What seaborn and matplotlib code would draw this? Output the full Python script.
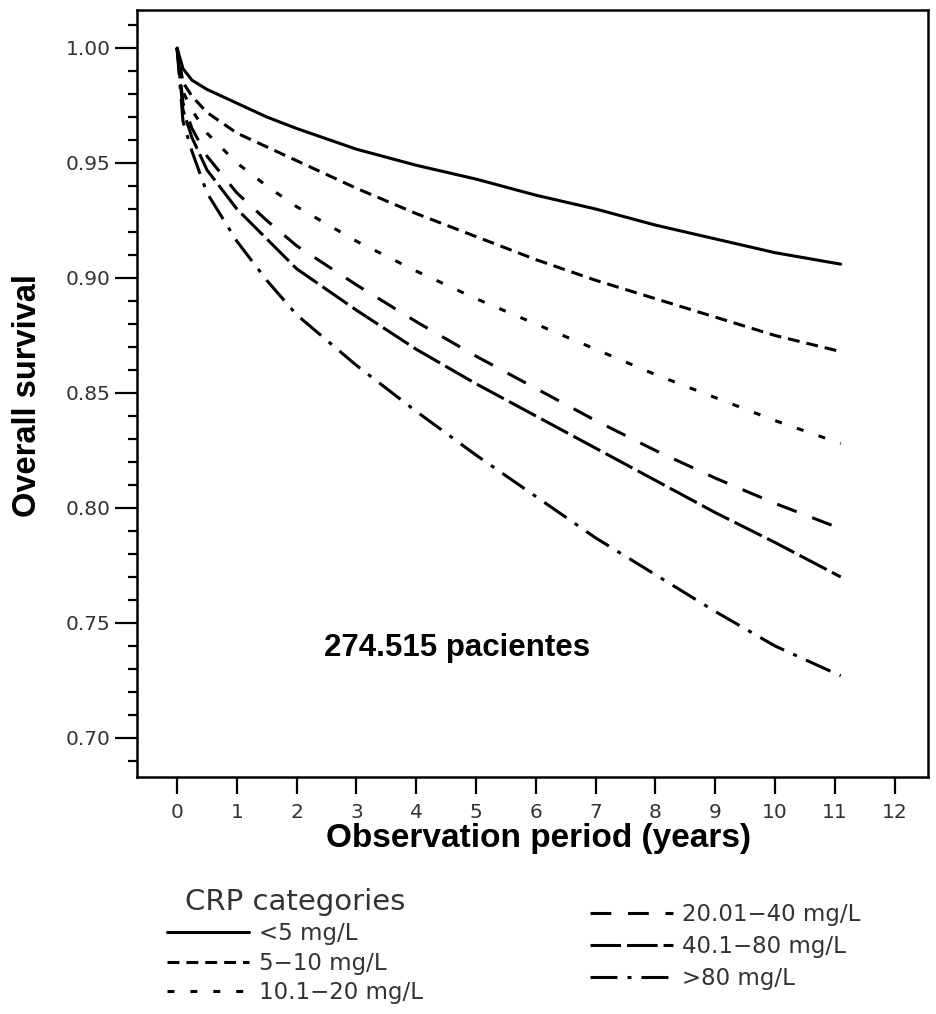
import matplotlib
matplotlib.use("Agg")
import matplotlib.pyplot as plt
import seaborn as sns
from matplotlib.ticker import MultipleLocator, FormatStrFormatter

# ---- data (years, survival) ----
years = [0, 0.1, 0.25, 0.5, 1, 1.5, 2, 3, 4, 5, 6, 7, 8, 9, 10, 11.1]
surv_lt5 = [1.000, 0.991, 0.986, 0.982, 0.976, 0.970, 0.965, 0.956, 0.949, 0.943, 0.936, 0.930, 0.923, 0.917, 0.911, 0.906]
surv_5_10 = [1.000, 0.985, 0.979, 0.972, 0.963, 0.957, 0.951, 0.939, 0.928, 0.918, 0.908, 0.899, 0.891, 0.883, 0.875, 0.868]
surv_10_20 = [1.000, 0.981, 0.973, 0.963, 0.950, 0.940, 0.931, 0.916, 0.903, 0.891, 0.880, 0.869, 0.858, 0.848, 0.838, 0.828]
surv_20_40 = [1.000, 0.976, 0.965, 0.953, 0.937, 0.925, 0.914, 0.897, 0.881, 0.866, 0.852, 0.838, 0.825, 0.813, 0.802, 0.791]
surv_40_80 = [1.000, 0.973, 0.961, 0.947, 0.930, 0.917, 0.904, 0.886, 0.869, 0.854, 0.840, 0.826, 0.812, 0.798, 0.785, 0.770]
surv_gt80 = [1.000, 0.968, 0.955, 0.937, 0.916, 0.899, 0.884, 0.862, 0.842, 0.823, 0.805, 0.787, 0.771, 0.755, 0.740, 0.727]

categories = ["<5 mg/L", "5\u221210 mg/L", "10.1\u221220 mg/L",
              "20.01\u221240 mg/L", "40.1\u221280 mg/L", ">80 mg/L"]
series = [surv_lt5, surv_5_10, surv_10_20, surv_20_40, surv_40_80, surv_gt80]
x_ticks = list(range(0, 13))

# line styles (dash patterns in points)
styles = ["solid", (0, (8.6, 5.0)), (0, (5.0, 11.5)), (0, (15.0, 12.0)),
          (0, (22.0, 4.3)), (0, (19.4, 7.2, 2.9, 7.2))]

sns.set_theme(style="ticks")
plt.rcParams["font.family"] = ["DejaVu Sans"]
plt.rcParams["lines.scale_dashes"] = False

fig = plt.figure(figsize=(9.37, 10.14), dpi=100)
ax = fig.add_axes([0.1462, 0.2337, 0.8442, 0.7564])
ax.set_facecolor("white")

for lab, vals, ls in zip(categories, series, styles):
    sns.lineplot(x=years, y=vals, ax=ax, color="black", linewidth=2.2,
                 linestyle=ls, label=lab, legend=False, errorbar=None,
                 estimator=None, sort=False)

ax.set_xlim(-0.67, 12.56)
ax.set_ylim(0.683, 1.0165)
ax.set_xticks(x_ticks)
ax.yaxis.set_major_locator(MultipleLocator(0.05))
ax.yaxis.set_minor_locator(MultipleLocator(0.01))
ax.yaxis.set_major_formatter(FormatStrFormatter("%.2f"))

for s in ax.spines.values():
    s.set_visible(True)
    s.set_linewidth(1.8)
    s.set_color("black")

ax.tick_params(axis="y", which="major", length=16, width=1.6, direction="out",
               labelsize=14.5, pad=3, labelcolor="#333333", color="black", left=True)
ax.tick_params(axis="y", which="minor", length=6.5, width=1.6, direction="out",
               color="black", left=True)
ax.tick_params(axis="x", which="major", length=12.5, width=1.6, direction="out",
               labelsize=14.5, pad=6, labelcolor="#333333", color="black", bottom=True)

ax.set_xlabel("Observation period (years)", fontsize=24, fontweight="bold",
              family="Liberation Sans", color="black")
ax.set_ylabel("Overall survival", fontsize=23.5, fontweight="bold",
              family="Liberation Sans", color="black")
ax.xaxis.set_label_coords(0.507, -0.060)
ax.yaxis.set_label_coords(-0.119, 0.498)

ax.text(4.68, 0.739, "274.515 pacientes", ha="center", va="center",
        fontsize=22.5, fontweight="bold", family="Liberation Sans", color="black")

handles = ax.get_lines()[:6]
leg_prop = {"family": "DejaVu Sans", "size": 16.5}
leg1 = fig.legend(handles=handles[:3], labels=categories[:3], title="CRP categories",
                  loc="upper left", bbox_to_anchor=(0.1782, 0.1242),
                  bbox_transform=fig.transFigure, frameon=False, prop=leg_prop,
                  title_fontproperties={"family": "DejaVu Sans", "size": 21},
                  handlelength=3.6, handletextpad=0.4, labelspacing=0.28,
                  borderpad=0, borderaxespad=0)
for t in leg1.get_texts():
    t.set_color("#333333")
leg1.get_title().set_color("#333333")
leg2 = fig.legend(handles=handles[3:], labels=categories[3:],
                  loc="upper left", bbox_to_anchor=(0.6297, 0.1094),
                  bbox_transform=fig.transFigure, frameon=False, prop=leg_prop,
                  handlelength=3.6, handletextpad=0.4, labelspacing=0.40,
                  borderpad=0, borderaxespad=0)
for t in leg2.get_texts():
    t.set_color("#333333")

fig.savefig("out.png", dpi=100, facecolor="white")
